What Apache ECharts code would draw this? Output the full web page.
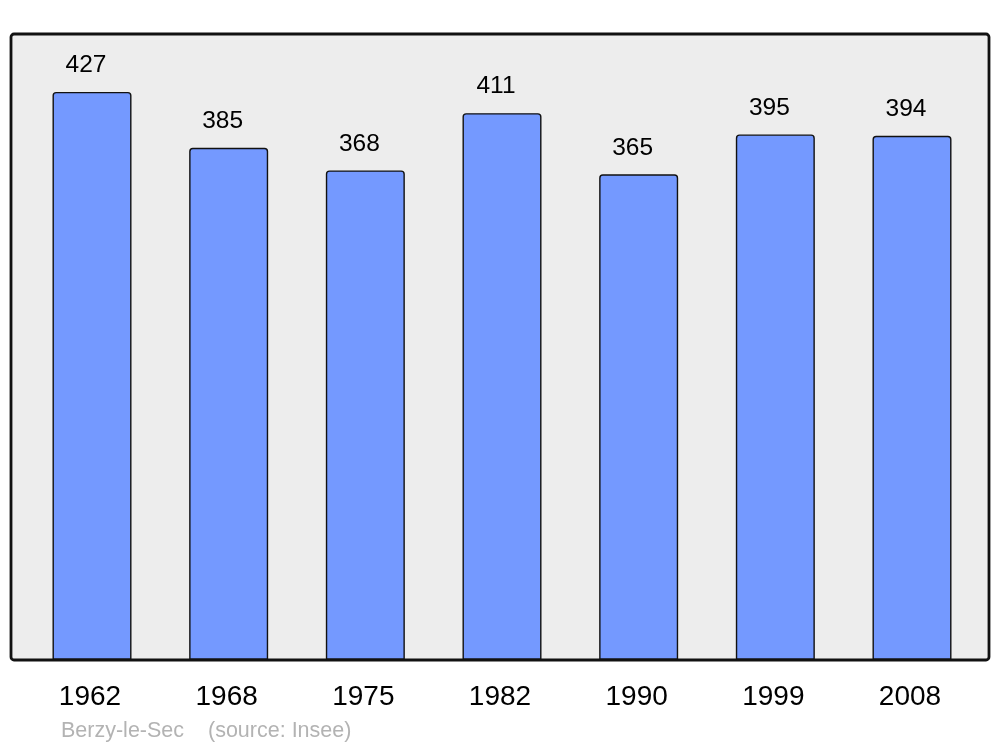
<!DOCTYPE html>
<html>
<head>
<meta charset="utf-8">
<script src="https://cdn.jsdelivr.net/npm/echarts@6/dist/echarts.min.js"></script>
<style>html,body{margin:0;padding:0;background:#fff}#c{width:1000px;height:747px}</style>
</head>
<body>
<div id="c"></div>
<script>
const years = ['1962', '1968', '1975', '1982', '1990', '1999', '2008'];
const population = [427, 385, 368, 411, 365, 395, 394];
const townName = 'Berzy-le-Sec';
const sourceText = '(source: Insee)';

const chart = echarts.init(document.getElementById('c'), null, {renderer: 'canvas'});
chart.setOption({
  animation: false,
  backgroundColor: '#ffffff',
  grid: {left: 23.67, right: 19.67, top: 34, bottom: 87, containLabel: false},
  graphic: [
    {type: 'rect', z: -10, silent: true,
     shape: {x: 11, y: 34, width: 978, height: 626, r: 3},
     style: {fill: '#ededed', stroke: 'none'}},
    {type: 'rect', z: 100, silent: true,
     shape: {x: 11, y: 34, width: 978, height: 626, r: 3},
     style: {fill: 'none', stroke: '#111111', lineWidth: 2.8}},
    {type: 'text', left: 61, top: 720, silent: true,
     style: {text: townName, fill: '#b3b3b3', font: '21.5px "Liberation Sans", Arial, sans-serif'}},
    {type: 'text', left: 208, top: 720, silent: true,
     style: {text: sourceText, fill: '#b3b3b3', font: '21.5px "Liberation Sans", Arial, sans-serif'}}
  ],
  xAxis: {
    type: 'category',
    data: years,
    axisLine: {show: false},
    axisTick: {show: false},
    axisLabel: {color: '#000', fontSize: 28, fontFamily: '"Liberation Sans", Arial, sans-serif',
                margin: 23, padding: [0, 4, 0, 0]}
  },
  yAxis: {
    type: 'value', min: 0, max: 470.5,
    show: false,
    splitLine: {show: false}
  },
  series: [{
    type: 'bar',
    data: population,
    barWidth: 79,
    itemStyle: {color: '#7499ff', borderColor: '#111', borderWidth: 1.4, borderRadius: [3, 3, 0, 0]},
    label: {show: true, position: 'top', distance: 14, offset: [-6, 0], color: '#000', fontSize: 24.5,
            fontFamily: '"Liberation Sans", Arial, sans-serif'}
  }]
});
</script>
</body>
</html>
